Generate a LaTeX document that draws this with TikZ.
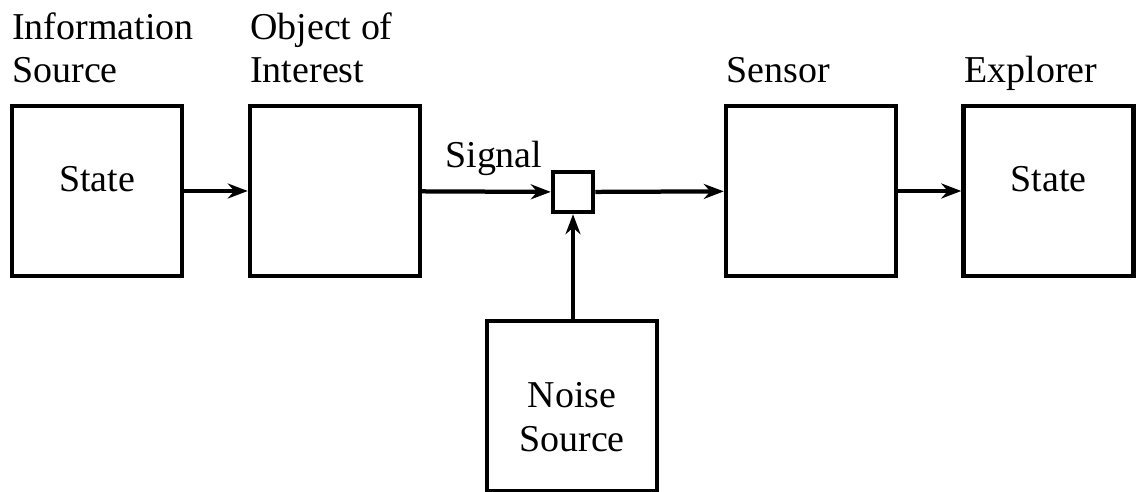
\documentclass[tikz,border=0pt]{standalone}
\usepackage{fontspec}
\setmainfont{Liberation Serif}
\usetikzlibrary{arrows.meta, positioning}

\begin{document}
\begin{tikzpicture}[
    x=0.02cm, y=-0.02cm,
    % Styles
    box/.style={rectangle, draw, line width=0.09cm, minimum width=3.4cm, minimum height=3.4cm, inner sep=0pt, align=center, font=\fontsize{21.6pt}{25pt}\selectfont},
    statebox/.style={box, text height=14pt, text depth=13pt},
    sumbox/.style={rectangle, draw, line width=0.09cm, minimum width=0.8cm, minimum height=0.8cm, inner sep=0pt},
    arrow/.style={-{Stealth[length=4mm, width=3mm, inset=1.3mm]}, line width=0.085cm},
    label/.style={anchor=base west, inner sep=0pt, align=left, font=\fontsize{21.6pt}{25pt}\selectfont},
]
\useasboundingbox (0,0) rectangle (1138,492);

% === MAIN CHAIN ===
\node[statebox] (info) at (97,191) {State};
\node[box] (object) at (335,191) {};
\node[sumbox] (junction) at (573,192) {};
\node[box] (sensor) at (811,191) {};
\node[statebox] (explorer) at (1048.5,191) {State};
\node[box, text height=52pt, text depth=0pt] (noise) at (572,406) {Noise\\Source};

% Box labels
\node[label] (infolabel) at (12,83) {Information\\Source};
\node[label] (objectlabel) at (250,83) {Object of\\Interest};
\node[label] (sensorlabel) at (726,83) {Sensor};
\node[label] (explorerlabel) at (964,83) {Explorer};
\node[label] (signal) at (445,168) {Signal};

% Arrows
\draw[arrow] (info) -- (object);
\draw[arrow] (object) -- (junction);
\draw[arrow] (junction) -- (sensor);
\draw[arrow] (sensor) -- (explorer);
\draw[arrow] (noise.north -| junction) -- (junction);

\end{tikzpicture}
\end{document}
